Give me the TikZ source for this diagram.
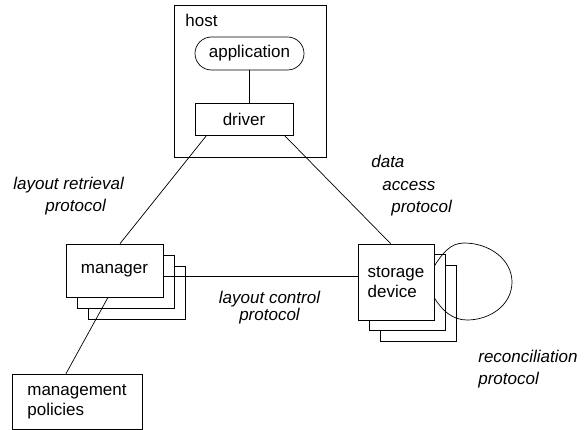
\documentclass[tikz,border=0pt]{standalone}
\usepackage{fontspec}
\setmainfont{Liberation Sans}
\usetikzlibrary{calc}
\begin{document}
\begin{tikzpicture}[x=1pt,y=-1pt,
  line width=0.7pt,
  every node/.style={font=\fontsize{17}{20}\selectfont},
  box/.style={draw, fill=white, inner sep=0pt},
  pill/.style={box, rounded corners=16.5pt},
  lbl/.style={inner sep=0pt, font=\fontsize{17}{20}\selectfont\itshape},
  txt/.style={inner sep=0pt}]
\useasboundingbox (0,0) rectangle (585,430);

% host machine
\node[box, fill=none, minimum width=152pt, minimum height=152pt] (host) at (250,81) {};
\node[txt, anchor=base west] (hostlbl) at (185,27) {host};
\node[pill, minimum width=109pt, minimum height=33pt] (app) at (249.5,53.5) {application};
\node[box, minimum width=98pt, minimum height=32pt] (driver) at (244,119) {driver};
\draw (app.south) -- (app.south |- driver.north);

% manager stack
\node[box, minimum width=97pt, minimum height=53pt] (man3) at (136.5,293) {};
\node[box, minimum width=97pt, minimum height=53pt] (man2) at (125.5,282) {};
\node[box, minimum width=97pt, minimum height=53pt] (manager) at (114.5,270.5) {manager};

% storage stack
\node[box, minimum width=76pt, minimum height=76pt] (sto3) at (418.5,303.5) {};
\node[box, minimum width=76pt, minimum height=76pt] (sto2) at (407,292) {};
\node[box, minimum width=76pt, minimum height=76pt, align=left, font=\fontsize{17}{20}\selectfont] (storage) at (396,282) {storage\\device};

% management policies
\node[box, minimum width=130pt, minimum height=55pt, align=left, font=\fontsize{17}{20}\selectfont] (policies) at (77,401.5) {management\\policies};

% protocols
\draw ($(driver.south west)+(12,0)$) -- ($(manager.north)+(5.5,0)$);
\draw ($(driver.south east)+(-9,0)$) -- ($(storage.north west)+(33,0)$);
\draw ($(manager.east)+(0,5.5)$) -- ($(storage.west)+(0,-6)$);
\draw ($(manager.south)+(-6.5,0)$) -- ($(policies.north)+(-11,0)$);

% reconciliation loop
\coordinate (loopA) at ($(storage.east)+(0,-16)$);
\coordinate (loopE) at ($(storage.east)+(0,16)$);
\draw (loopA) .. controls (442,254) and (450,243) .. (464,243)
  .. controls (490,243) and (512,260) .. (512,282)
  .. controls (512,305) and (490,320) .. (467,320)
  .. controls (452,320) and (442,310) .. (loopE);

% labels
\node[lbl, anchor=base west] (lr1) at (13,189.5) {layout retrieval};
\node[lbl, anchor=base west] (lr2) at (45,211.5) {protocol};
\node[lbl, anchor=base west] (da1) at (371,168) {data};
\node[lbl, anchor=base west] (da2) at (382,190) {access};
\node[lbl, anchor=base west] (da3) at (391,212) {protocol};
\node[lbl, anchor=base] (lc1) at (269.5,303.5) {layout control};
\node[lbl, anchor=base] (lc2) at (269.5,320.5) {protocol};
\node[lbl, anchor=base west] (rc1) at (478,362.5) {reconciliation};
\node[lbl, anchor=base west] (rc2) at (478,384.5) {protocol};
\end{tikzpicture}
\end{document}
